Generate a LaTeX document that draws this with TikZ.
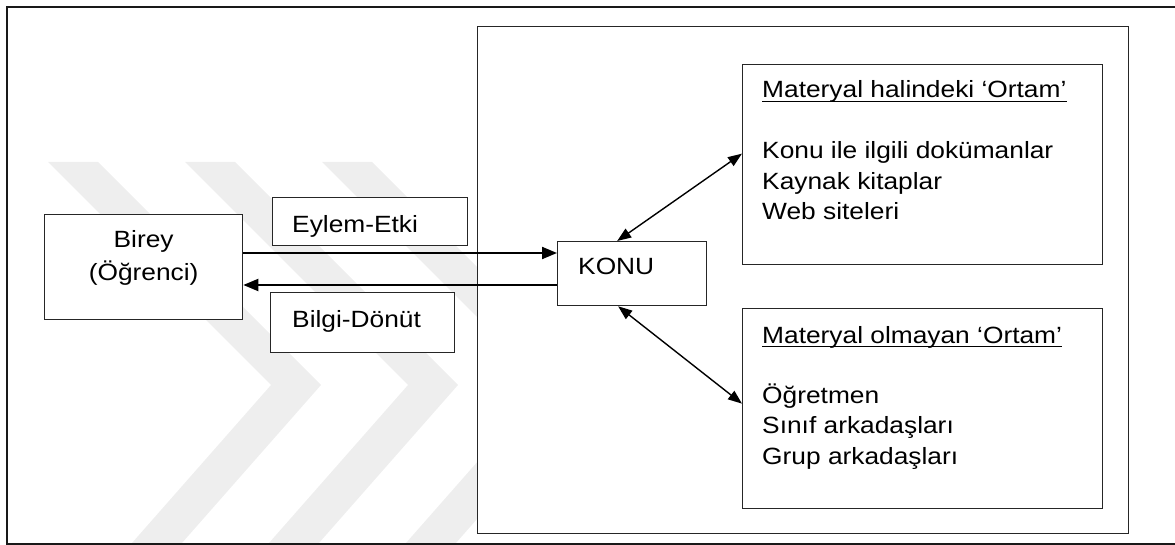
\documentclass[tikz,border=0pt]{standalone}
\usepackage{fontspec}
\setmainfont{Liberation Sans}[FakeStretch=1.12]
\usetikzlibrary{arrows.meta,calc}

\begin{document}
\begin{tikzpicture}[x=1pt,y=-1pt,
  box/.style={draw=black!85,line width=1.3pt,fill=white,rectangle,inner sep=0pt,anchor=north west},
  txt/.style={inner sep=0pt,font=\fontsize{23.5}{30}\selectfont,text=black},
  link/.style={line width=2pt,-{Triangle[length=15pt,width=12pt]}},
  duplex/.style={line width=1.4pt,{Triangle[length=14pt,width=10.5pt]}-{Triangle[length=14pt,width=10.5pt]}},
  chevron/.style={fill=gray!13,draw=none},
  uline/.style={line width=1.8pt}]

\useasboundingbox (0,0) rectangle (1175,545);

% faint chevrons in the background
\begin{scope}
  \clip (7,7) rectangle (1175,544);
  \foreach \x in {48,185,322}
    \fill[chevron] (\x,162) -- ++(50,0) -- ++(223,223) -- ++(-154,175)
                   -- ++(-50,0) -- ++(154,-175) -- cycle;
\end{scope}

% outer frame
\draw[line width=2.6pt,black!90] (7,7) rectangle (1195,544.5);

% boxes
\node[box,minimum width=198pt,minimum height=105pt] (birey) at (44,214) {};
\node[box,minimum width=195pt,minimum height=48pt]  (eylem) at (272,197) {};
\node[box,minimum width=184pt,minimum height=60pt]  (bilgi) at (270,292) {};
\node[box,minimum width=651pt,minimum height=507pt] (ortam) at (477,26) {};
\node[box,minimum width=149pt,minimum height=64pt]  (konu)  at (557,241) {};
\node[box,minimum width=360pt,minimum height=200pt] (mat1)  at (742,64) {};
\node[box,minimum width=360pt,minimum height=200pt] (mat2)  at (742,308) {};

% box texts
\node[txt,anchor=base] (bireyA) at ($(birey.north)+(0,34)$) {Birey};
\node[txt,anchor=base] (bireyB) at ($(birey.north)+(0,66)$) {(Öğrenci)};
\node[txt,anchor=base west] (eylemT) at ($(eylem.north west)+(20,36)$) {Eylem-Etki};
\node[txt,anchor=base west] (bilgiT) at ($(bilgi.north west)+(22,35)$) {Bilgi-Dönüt};
\node[txt,anchor=base west] (konuT)  at ($(konu.north west)+(21,34)$) {KONU};

\node[txt,anchor=base west] (m1title) at ($(mat1.north west)+(20,34)$) {Materyal halindeki ‘Ortam’};
\node[txt,anchor=base west] (m1a) at ($(mat1.north west)+(20,95)$) {Konu ile ilgili dokümanlar};
\node[txt,anchor=base west] (m1b) at ($(mat1.north west)+(20,125.5)$) {Kaynak kitaplar};
\node[txt,anchor=base west] (m1c) at ($(mat1.north west)+(20,156)$) {Web siteleri};
\draw[uline] ([yshift=-3.5pt]m1title.base west) -- ([yshift=-3.5pt]m1title.base east);

\node[txt,anchor=base west] (m2title) at ($(mat2.north west)+(20,35)$) {Materyal olmayan ‘Ortam’};
\node[txt,anchor=base west] (m2a) at ($(mat2.north west)+(20,95)$) {Öğretmen};
\node[txt,anchor=base west] (m2b) at ($(mat2.north west)+(20,125.5)$) {Sınıf arkadaşları};
\node[txt,anchor=base west] (m2c) at ($(mat2.north west)+(20,156)$) {Grup arkadaşları};
\draw[uline] ([yshift=-3.5pt]m2title.base west) -- ([yshift=-3.5pt]m2title.base east);

% connectors
\coordinate (ya) at (0,253);
\coordinate (yb) at (0,285);
\draw[link] (ya -| birey.east) -- (ya -| konu.west);
\draw[link] (yb -| konu.west) -- (yb -| birey.east);
\draw[duplex] ([xshift=-15pt]konu.north) -- ([yshift=11pt]mat1.west);
\draw[duplex] ([xshift=-14pt]konu.south) -- ([yshift=5pt]mat2.west);

\end{tikzpicture}
\end{document}
